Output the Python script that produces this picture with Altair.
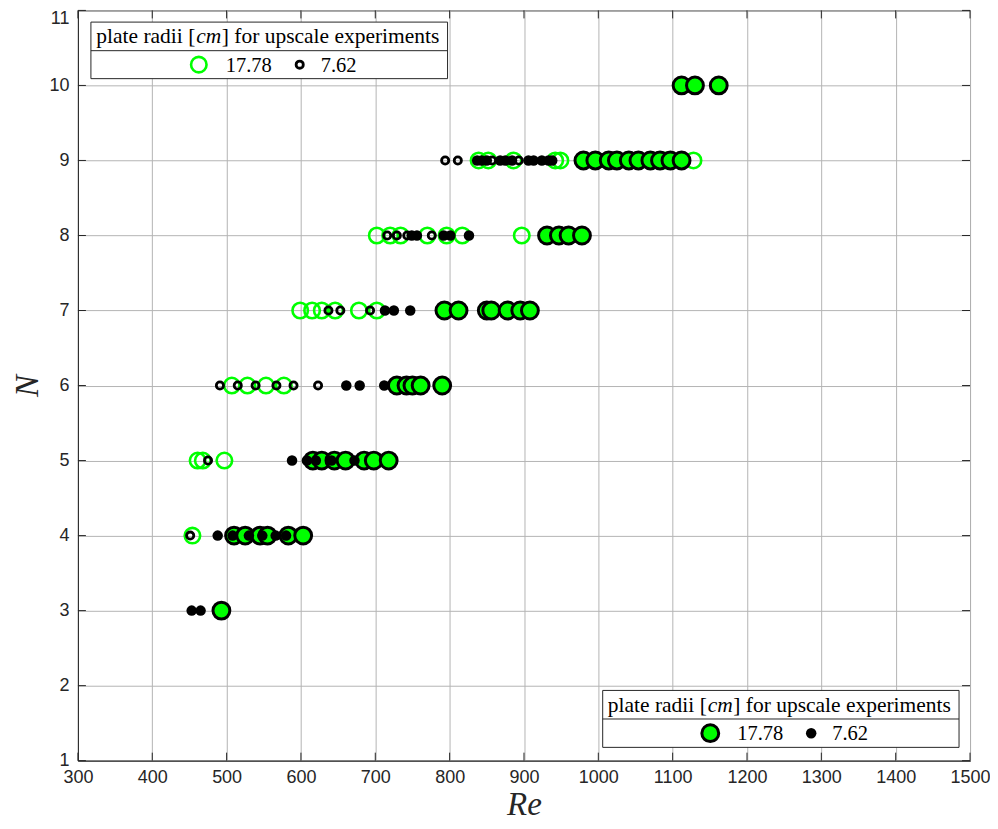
import altair as alt
import pandas as pd

# ---------------- data ----------------
x_ticks = [300, 400, 500, 600, 700, 800, 900, 1000, 1100, 1200, 1300, 1400, 1500]
y_ticks = [1, 2, 3, 4, 5, 6, 7, 8, 9, 10, 11]

# 17.78 cm plates, open markers
green_open_re = [454,
                 461, 468, 497,
                 507, 528, 553, 577,
                 599, 615, 628, 646, 678, 702,
                 702, 720, 734, 770, 796, 817, 897,
                 839, 852, 886, 942, 949, 994, 1025, 1052, 1090, 1128]
green_open_n = [4,
                5, 5, 5,
                6, 6, 6, 6,
                7, 7, 7, 7, 7, 7,
                8, 8, 8, 8, 8, 8, 8,
                9, 9, 9, 9, 9, 9, 9, 9, 9, 9]

# 7.62 cm plates, open markers
black_open_re = [451,
                 475,
                 491, 515, 539, 567, 590, 623,
                 637, 653, 693,
                 716, 729, 743, 776,
                 794, 811, 857, 893]
black_open_n = [4,
                5,
                6, 6, 6, 6, 6, 6,
                7, 7, 7,
                8, 8, 8, 8,
                9, 9, 9, 9]

# 17.78 cm plates, filled markers
green_filled_re = [493,
                   510, 525, 545, 555, 583, 603,
                   616, 628, 645, 660, 685, 698, 718,
                   729, 742, 750, 761, 790,
                   793, 812, 850, 856, 878, 895, 908,
                   931, 947, 960, 978,
                   980, 996, 1014, 1025, 1041, 1054, 1070, 1083, 1097, 1112,
                   1112, 1130, 1162]
green_filled_n = [3,
                  4, 4, 4, 4, 4, 4,
                  5, 5, 5, 5, 5, 5, 5,
                  6, 6, 6, 6, 6,
                  7, 7, 7, 7, 7, 7, 7,
                  8, 8, 8, 8,
                  9, 9, 9, 9, 9, 9, 9, 9, 9, 9,
                  10, 10, 10]

# 7.62 cm plates, filled markers
black_filled_re = [453, 465,
                   488, 508, 530, 548, 566, 580,
                   588, 608, 620, 641, 672,
                   661, 679, 712,
                   713, 725, 747,
                   749, 756, 792, 801, 826,
                   837, 843, 850, 868, 875, 884, 906, 913, 924, 933, 938]
black_filled_n = [3, 3,
                  4, 4, 4, 4, 4, 4,
                  5, 5, 5, 5, 5,
                  6, 6, 6,
                  7, 7, 7,
                  8, 8, 8, 8, 8,
                  9, 9, 9, 9, 9, 9, 9, 9, 9, 9, 9]

legend_title = ["plate radii [", "cm", "] for upscale experiments"]
legend_labels = ["17.78", "7.62"]

# ---------------- styling ----------------
W, H = 893, 751
GREEN = "#00ff00"
AX = "#262626"

xs = alt.Scale(domain=[300, 1500], nice=False, zero=False)
ys = alt.Scale(domain=[1, 11], nice=False, zero=False)

x_axis = alt.Axis(values=x_ticks, format="d", title="Re", grid=True, ticks=False,
                  labelFlush=False, labelPadding=8, titlePadding=2)
y_axis = alt.Axis(values=y_ticks, format="d", title="N", grid=True, ticks=False,
                  labelFlush=False, labelPadding=9, titlePadding=4,
                  labelOffset=alt.condition("datum.value == 11", alt.value(8), alt.value(0)))


def enc_xy():
    return dict(x=alt.X("Re:Q", scale=xs, axis=x_axis),
                y=alt.Y("N:Q", scale=ys, axis=y_axis))


df_go = pd.DataFrame({"Re": green_open_re, "N": green_open_n})
df_bo = pd.DataFrame({"Re": black_open_re, "N": black_open_n})
df_gf = pd.DataFrame({"Re": green_filled_re, "N": green_filled_n})
df_bf = pd.DataFrame({"Re": black_filled_re, "N": black_filled_n})

SZ_GO, SW_GO = 240, 2.6
SZ_BO, SW_BO = 52, 2.8
SZ_GF, SW_GF = 285, 3
SZ_BF = 110

go = alt.Chart(df_go).mark_point(shape="circle", filled=False, color=GREEN,
                                 strokeWidth=SW_GO, size=SZ_GO, opacity=1).encode(**enc_xy())
bo = alt.Chart(df_bo).mark_point(shape="circle", filled=False, color="black",
                                 strokeWidth=SW_BO, size=SZ_BO, opacity=1).encode(**enc_xy())
gf = alt.Chart(df_gf).mark_point(shape="circle", filled=True, fill=GREEN, stroke="black",
                                 strokeWidth=SW_GF, size=SZ_GF, opacity=1).encode(**enc_xy())
bf = alt.Chart(df_bf).mark_point(shape="circle", filled=True, color="black",
                                 size=SZ_BF, opacity=1).encode(**enc_xy())

# inward ticks on all four sides (MATLAB style)
TL = 8
df_xt = pd.DataFrame({"Re": x_ticks})
df_yt = pd.DataFrame({"N": y_ticks})
xt_bot = alt.Chart(df_xt).mark_rule(color=AX, strokeWidth=1).encode(
    x=alt.X("Re:Q", scale=xs, axis=x_axis), y=alt.value(H), y2=alt.value(H - TL))
xt_top = alt.Chart(df_xt).mark_rule(color=AX, strokeWidth=1).encode(
    x=alt.X("Re:Q", scale=xs, axis=x_axis), y=alt.value(0), y2=alt.value(TL))
yt_left = alt.Chart(df_yt).mark_rule(color=AX, strokeWidth=1).encode(
    y=alt.Y("N:Q", scale=ys, axis=y_axis), x=alt.value(0), x2=alt.value(TL))
yt_right = alt.Chart(df_yt).mark_rule(color=AX, strokeWidth=1).encode(
    y=alt.Y("N:Q", scale=ys, axis=y_axis), x=alt.value(W), x2=alt.value(W - TL))

one = pd.DataFrame({"k": [0]})
SERIF = "Liberation Serif"
LFS = 21.5
NFS = 20.5


def legend(x0, x1, y0, ymid, y1, sym_a, sym_b, dx):
    """dx: horizontal offset of this legend box relative to the first one."""
    box = alt.Chart(one).mark_rect(fill="white", stroke=AX, strokeWidth=1).encode(
        x=alt.value(x0), x2=alt.value(x1), y=alt.value(y0), y2=alt.value(y1))
    div = alt.Chart(one).mark_rule(color=AX, strokeWidth=1).encode(
        x=alt.value(x0), x2=alt.value(x1), y=alt.value(ymid), y2=alt.value(ymid))
    yh = (y0 + ymid) / 2 + 1
    yr = (ymid + y1) / 2 + 1
    t1 = alt.Chart(one).mark_text(text=legend_title[0], align="right", baseline="middle",
                                  font=SERIF, fontSize=LFS, color="black").encode(
        x=alt.value(117.5 + dx), y=alt.value(yh))
    t2 = alt.Chart(one).mark_text(text=legend_title[1], align="left", baseline="middle",
                                  font=SERIF, fontSize=LFS, fontStyle="italic", color="black").encode(
        x=alt.value(118.5 + dx), y=alt.value(yh))
    t3 = alt.Chart(one).mark_text(text=legend_title[2], align="left", baseline="middle",
                                  font=SERIF, fontSize=LFS, color="black").encode(
        x=alt.value(144 + dx), y=alt.value(yh))
    la = alt.Chart(one).mark_text(text=legend_labels[0], align="left", baseline="middle",
                                  font=SERIF, fontSize=NFS, color="black").encode(
        x=alt.value(148 + dx), y=alt.value(yr))
    lb = alt.Chart(one).mark_text(text=legend_labels[1], align="left", baseline="middle",
                                  font=SERIF, fontSize=NFS, color="black").encode(
        x=alt.value(243 + dx), y=alt.value(yr))
    ma = sym_a.encode(x=alt.value(121 + dx), y=alt.value(yr - 1))
    mb = sym_b.encode(x=alt.value(222 + dx), y=alt.value(yr - 1))
    return [box, div, t1, t2, t3, la, lb, ma, mb]


leg1 = legend(13, 370, 11.7, 40.3, 68.3,
              alt.Chart(one).mark_point(shape="circle", filled=False, color=GREEN,
                                        strokeWidth=SW_GO, size=SZ_GO, opacity=1),
              alt.Chart(one).mark_point(shape="circle", filled=False, color="black",
                                        strokeWidth=SW_BO, size=SZ_BO, opacity=1),
              0)
leg2 = legend(525.3, 882, 680.7, 709.3, 737.7,
              alt.Chart(one).mark_point(shape="circle", filled=True, fill=GREEN, stroke="black",
                                        strokeWidth=SW_GF, size=SZ_GF, opacity=1),
              alt.Chart(one).mark_point(shape="circle", filled=True, color="black",
                                        size=SZ_BF, opacity=1),
              512)

chart = alt.layer(go, bo, gf, bf, xt_bot, xt_top, yt_left, yt_right, *leg1, *leg2).properties(
    width=W, height=H,
    autosize=alt.AutoSizeParams(type="none"),
    padding={"left": 70, "top": 2, "right": 20, "bottom": 66},
).configure_view(
    stroke=AX, strokeWidth=1
).configure_axis(
    labelFont="Liberation Sans", labelFontSize=18, labelColor=AX,
    titleFont=SERIF, titleFontSize=33, titleFontStyle="italic", titleFontWeight="normal",
    titleColor=AX, gridColor="#b4b4b4", gridWidth=1, gridOpacity=1,
    domainColor=AX, domainWidth=1,
)

chart.save("out.html", embed_options={"renderer": "svg", "actions": False})
